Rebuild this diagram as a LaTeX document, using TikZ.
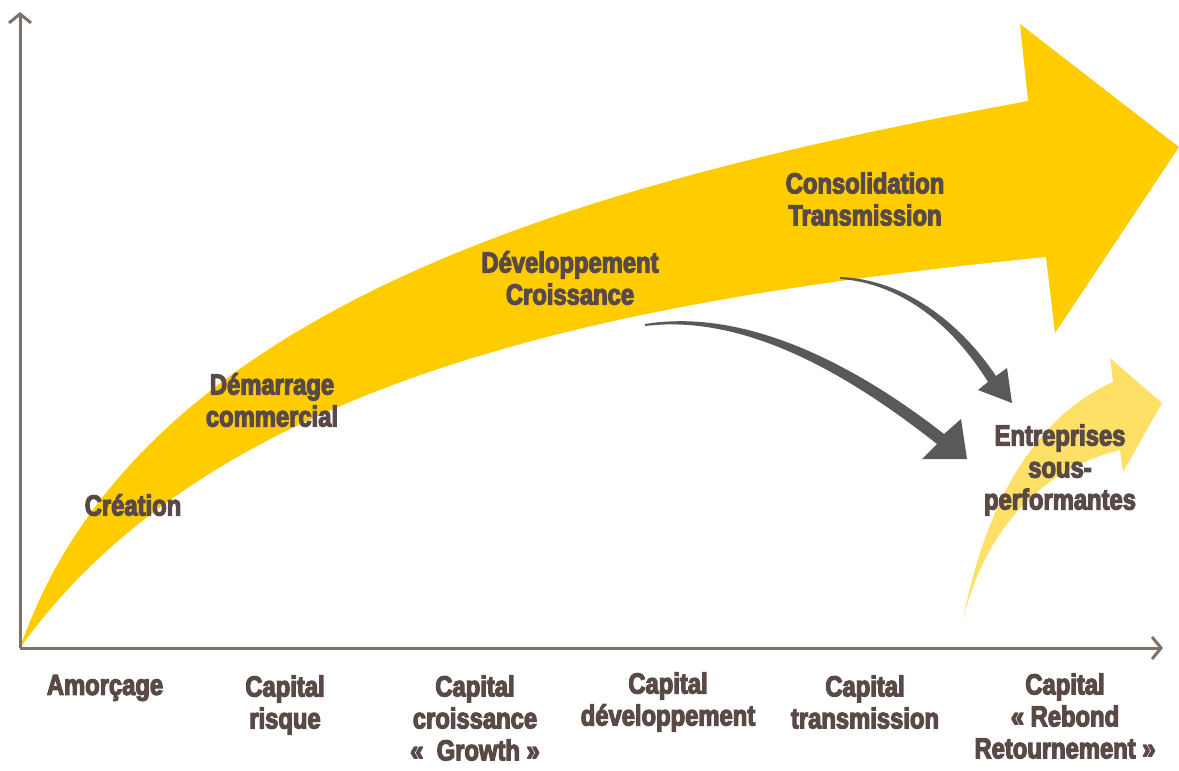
\documentclass[tikz,border=0pt]{standalone}
\usepackage{fontspec}
\setmainfont[FakeStretch=0.83,BoldFont={Liberation Sans Bold},BoldFeatures={FakeStretch=0.82,FakeBold=4}]{Liberation Sans}
\usetikzlibrary{arrows.meta}
\definecolor{axisc}{HTML}{7B736B}
\definecolor{txtc}{HTML}{594A47}
\definecolor{bigyel}{HTML}{FFCC00}
\definecolor{ltyel}{HTML}{FFE066}
\definecolor{darkar}{HTML}{595959}
\tikzset{
  lbl/.style={align=center,text=txtc,font=\bfseries\fontsize{29}{32}\selectfont,inner sep=0pt},
  axis/.style={draw=axisc,line width=3pt,-{Straight Barb[length=9pt,width=22pt,line width=3pt]}},
}
\begin{document}
\begin{tikzpicture}[x=1pt,y=-1pt]
\useasboundingbox (0,0) rectangle (1179,771);
% big yellow arrow
\fill[bigyel] (20,648) .. controls (140,300) and (600,180) .. (1028,101)
  -- (1020,24) -- (1179,147) -- (1055,333) -- (1046,257)
  .. controls (646,297) and (220,368) .. (20,648) -- cycle;
% small light-yellow arrow
\fill[ltyel] (963,620) .. controls (990,480) and (1050,410) .. (1113,382)
  -- (1110,358) -- (1162,403) -- (1123,472) -- (1120,450)
  .. controls (1040,470) and (985,530) .. (963,620) -- cycle;
% dark arrows
\fill[darkar] (645,324) .. controls (750,307) and (862,370) .. (944,434)
  -- (961,419) -- (967,459) -- (922,459) -- (937,444)
  .. controls (857,381) and (750,313) .. (645,326) -- cycle;
\fill[darkar] (840,277) .. controls (900,279) and (957,318) .. (996,376)
  -- (1007,368) -- (1012,403) -- (978,390) -- (988,382)
  .. controls (952,324) and (900,283) .. (840,279) -- cycle;
% axes
\coordinate (O) at (20,648);
\coordinate (Ytop) at (20,12);
\coordinate (Xend) at (1163,648);
\draw[axis] (O) -- (Ytop);
\draw[axis] (O) -- (Xend);
% labels on arrow
\node[lbl] (creation) at (133,505) {Création};
\node[lbl] (demarrage) at (272,400) {Démarrage\\commercial};
\node[lbl] (devel) at (570,278) {Développement\\Croissance};
\node[lbl] (consol) at (865,199) {Consolidation\\Transmission};
\node[lbl] (entrep) at (1060,470) {Entreprises\\sous-\\performantes};
% axis labels
\node[lbl] (amorcage) at (105,688) {Amorçage};
\node[lbl] (risque) at (285,705) {Capital\\risque};
\node[lbl] (croiss) at (475,718) {Capital\\croissance\\«~~Growth~»};
\node[lbl] (capdev) at (668,702) {Capital\\développement};
\node[lbl] (captrans) at (865,702) {Capital\\transmission};
\node[lbl] (rebond) at (1065,716) {Capital\\«~Rebond\\Retournement~»};
\end{tikzpicture}
\end{document}
